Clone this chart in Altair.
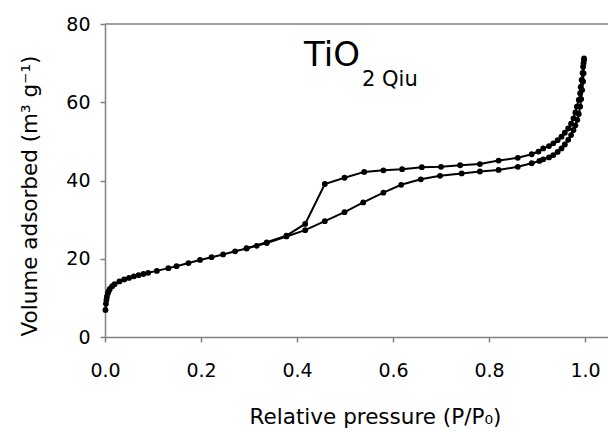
import altair as alt
import pandas as pd

# Adsorption branch (P/P0, volume)
ads_p = [0.001, 0.002, 0.003, 0.004, 0.006, 0.008, 0.010, 0.015, 0.020, 0.030,
         0.040, 0.050, 0.060, 0.070, 0.080, 0.090, 0.108, 0.132, 0.149, 0.174,
         0.198, 0.222, 0.246, 0.271, 0.295, 0.316, 0.337, 0.378, 0.417, 0.458,
         0.499, 0.538, 0.580, 0.617, 0.658, 0.698, 0.743, 0.781, 0.820, 0.860,
         0.889, 0.905, 0.913, 0.925, 0.934, 0.943, 0.951, 0.958, 0.965, 0.971,
         0.976, 0.980, 0.984, 0.987, 0.990, 0.992, 0.994, 0.996, 0.997, 0.998]
ads_v = [6.9, 8.5, 9.5, 10.3, 11.2, 11.8, 12.3, 13.0, 13.5, 14.2,
         14.7, 15.1, 15.5, 15.8, 16.1, 16.4, 16.9, 17.6, 18.1, 18.9,
         19.7, 20.4, 21.1, 21.9, 22.6, 23.3, 24.0, 25.7, 27.3, 29.6,
         31.9, 34.4, 36.9, 38.9, 40.3, 41.2, 41.8, 42.3, 42.7, 43.5,
         44.4, 45.0, 45.4, 45.9, 46.5, 47.3, 48.2, 49.2, 50.4, 51.6,
         52.9, 54.1, 55.5, 57.0, 58.9, 60.8, 63.1, 65.3, 67.4, 70.8]

# Desorption branch
des_p = [0.998, 0.997, 0.996, 0.995, 0.993, 0.991, 0.990, 0.987, 0.983, 0.980,
         0.976, 0.971, 0.965, 0.958, 0.951, 0.943, 0.934, 0.925, 0.913, 0.903,
         0.889, 0.860, 0.820, 0.781, 0.740, 0.700, 0.660, 0.619, 0.580, 0.540,
         0.499, 0.458, 0.417, 0.378, 0.337, 0.295]
des_v = [71.2, 70.0, 69.1, 67.5, 65.7, 63.9, 62.3, 60.6, 58.9, 57.4,
         55.9, 54.5, 53.3, 52.2, 51.2, 50.3, 49.5, 48.8, 48.2, 47.4,
         46.7, 45.8, 45.1, 44.2, 43.9, 43.5, 43.4, 42.9, 42.6, 42.2,
         40.7, 39.1, 28.9, 25.9, 24.2, 22.7]

rows = []
for i, (p, v) in enumerate(zip(ads_p, ads_v)):
    rows.append({"p": p, "v": v, "branch": "Adsorption", "order": i})
for i, (p, v) in enumerate(zip(des_p, des_v)):
    rows.append({"p": p, "v": v, "branch": "Desorption", "order": i})
df = pd.DataFrame(rows)

W, H = 503, 313
X_MAX = W / 480.0
FONT = "DejaVu Sans"
AXC = "#808080"

x_enc = alt.X(
    "p:Q",
    scale=alt.Scale(domain=[0, X_MAX], nice=False, zero=False),
    axis=alt.Axis(
        values=[0, 0.2, 0.4, 0.6, 0.8, 1.0], format=".1f",
        title="Relative pressure (P/P₀)", titleFontSize=21.5, titleFontWeight="normal",
        titleFont=FONT, titleX=270, titleY=86, titleAlign="center",
        titleBaseline="alphabetic", labelFontSize=19, labelFont=FONT,
        labelPadding=19, tickSize=5, grid=False, labelFlush=False,
    ),
)
y_enc = alt.Y(
    "v:Q",
    scale=alt.Scale(domain=[0, 80], nice=False),
    axis=alt.Axis(
        values=[0, 20, 40, 60, 80], title="Volume adsorbed (m³ g⁻¹)",
        titleFontSize=21.5, titleFontWeight="normal", titleFont=FONT,
        titleAngle=-90, titleX=-69, titleY=H / 2 + 15, titleAlign="center",
        titleBaseline="alphabetic", labelFontSize=19, labelFont=FONT,
        labelPadding=10, tickSize=5, grid=False,
    ),
)

base = alt.Chart(df)
lines = base.mark_line(color="black", strokeWidth=2).encode(
    x=x_enc, y=y_enc, detail="branch:N", order="order:Q"
)
pts = base.mark_circle(color="black", opacity=1, size=34).encode(
    x="p:Q", y="v:Q"
)
top_line = alt.Chart(pd.DataFrame({"a": [0]})).mark_rule(
    color=AXC, strokeWidth=1.5
).encode(x=alt.value(0), x2=alt.value(W), y=alt.value(0))

lbl = alt.Chart(pd.DataFrame({"t": ["TiO"]})).mark_text(
    font=FONT, fontSize=34, align="left", baseline="alphabetic", color="black"
).encode(text="t:N", x=alt.value(199), y=alt.value(42))
sub = alt.Chart(pd.DataFrame({"t": ["2 Qiu"]})).mark_text(
    font=FONT, fontSize=21, align="left", baseline="alphabetic", color="black"
).encode(text="t:N", x=alt.value(257), y=alt.value(62))

chart = alt.layer(lines, pts, top_line, lbl, sub).properties(
    width=W, height=H,
    autosize=alt.AutoSizeParams(type="none"),
    padding={"left": 105, "top": 24, "right": 0, "bottom": 94},
).configure_view(stroke=None).configure_axis(
    domainColor=AXC, tickColor=AXC, domainWidth=1.5, tickWidth=1.5,
    labelColor="black", titleColor="black",
)

chart.save("out.html", embed_options={"renderer": "svg", "actions": False})
